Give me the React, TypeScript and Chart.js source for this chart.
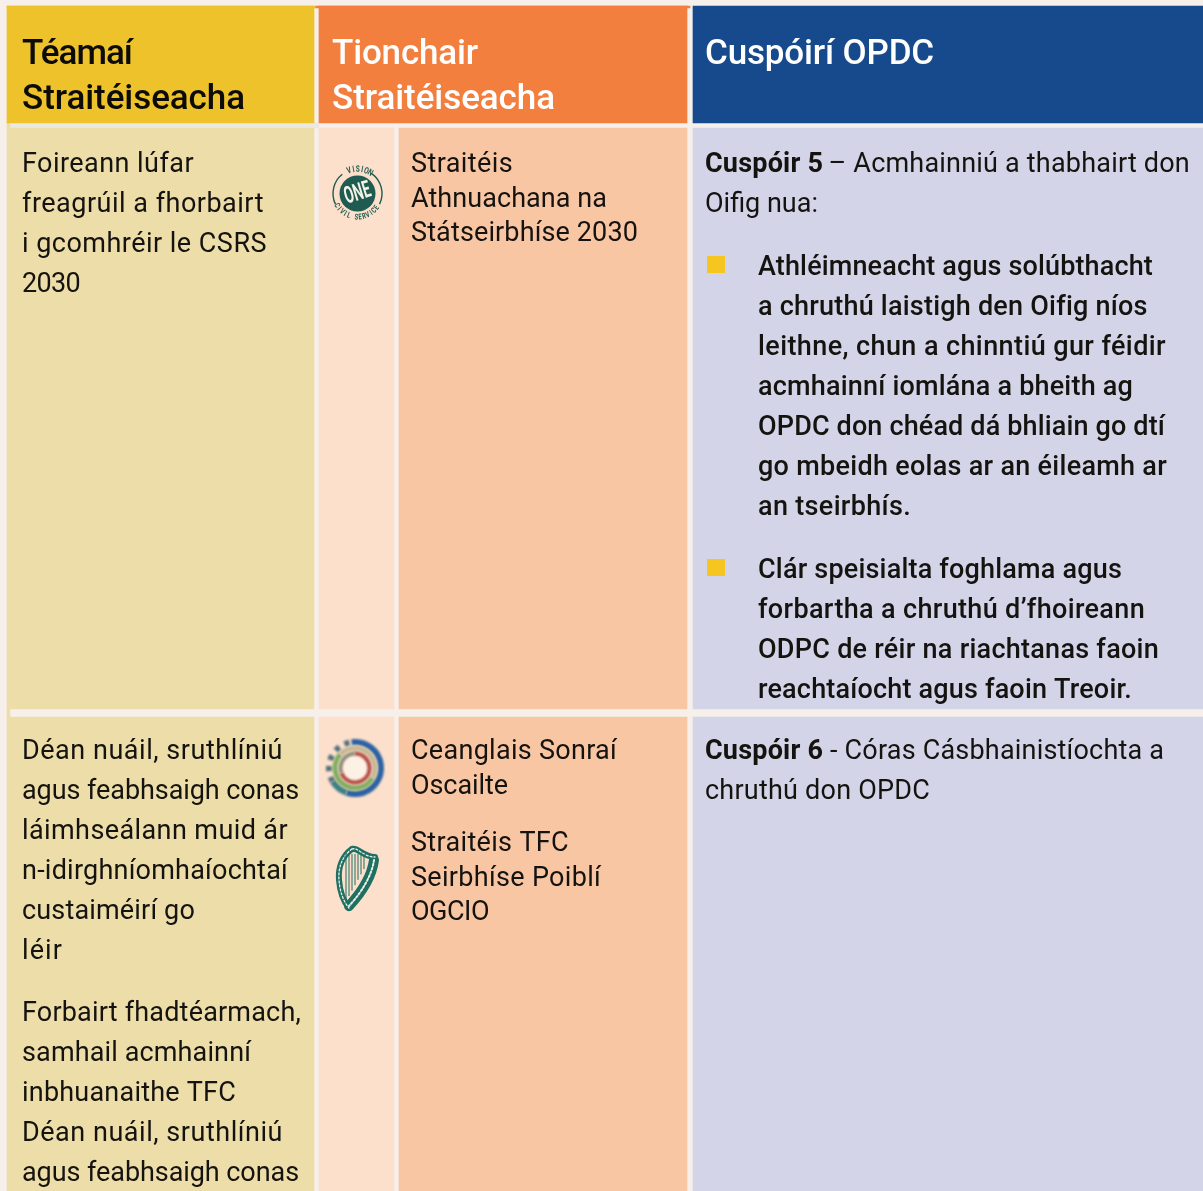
import React, { useEffect, useRef } from "react";
import { Chart, registerables } from "chart.js";

Chart.register(...registerables);

const FONT = "Roboto";
const INK = "#15130f";

const headerColumn1 = ["Téamaí", "Straitéiseacha"];
const headerColumn2 = ["Tionchair", "Straitéiseacha"];
const headerColumn3 = ["Cuspóirí OPDC"];

const themeRow1 = ["Foireann lúfar", "freagrúil a fhorbairt", "i gcomhréir le CSRS", "2030"];
const themeRow2a = ["Déan nuáil, sruthlíniú", "agus feabhsaigh conas", "láimhseálann muid ár", "n-idirghníomhaíochtaí", "custaiméirí go", "léir"];
const themeRow2b = ["Forbairt fhadtéarmach,", "samhail acmhainní", "inbhuanaithe TFC", "Déan nuáil, sruthlíniú", "agus feabhsaigh conas"];

const impactRow1 = ["Straitéis", "Athnuachana na", "Státseirbhíse 2030"];
const impactRow2a = ["Ceanglais Sonraí", "Oscailte"];
const impactRow2b = ["Straitéis TFC", "Seirbhíse Poiblí", "OGCIO"];

const goal5Lead = "Cuspóir 5";
const goal5Rest = " – Acmhainniú a thabhairt don";
const goal5Line2 = "Oifig nua:";
const bullet1 = ["Athléimneacht agus solúbthacht", "a chruthú laistigh den Oifig níos", "leithne, chun a chinntiú gur féidir", "acmhainní iomlána a bheith ag", "OPDC don chéad dá bhliain go dtí", "go mbeidh eolas ar an éileamh ar", "an tseirbhís."];
const bullet2 = ["Clár speisialta foghlama agus", "forbartha a chruthú d’fhoireann", "ODPC de réir na riachtanas faoin", "reachtaíocht agus faoin Treoir."];
const goal6Lead = "Cuspóir 6";
const goal6Rest = " - Córas Cásbhainistíochta a";
const goal6Line2 = "chruthú don OPDC";

const columnEdges: [number, number][] = [[7, 314], [319, 687], [693, 1203]];
const rowCells: [number, number][] = [[7, 314], [319, 394], [399, 687], [693, 1203]];
const headerColours = ["#eec22b", "#f27f3d", "#174a8c"];
const bodyColours = ["#eddda9", "#fce0cb", "#f9c6a4", "#d3d4e7"];
const topStripEdges: [number, number][] = [[7, 316], [316, 690]];
const topStripColours = ["#eec22b", "#f27f3d"];
const leftBridgeEdges: [number, number][] = [[7, 10]];
const leftBridgeColours = ["#eddda9"];
const paleRuleEdges: [number, number][] = [[10, 319]];
const paleRuleColours = ["#ebe8e3"];

// Right-hand ends of each text line, so the substitute font fills the same measure.
const fitThemeRow1 = [194, 264, 267, 80];
const fitThemeRow2a = [283, 299, 288, 288, 195, 63];
const fitThemeRow2b = [301, 251, 236, 283, 299];
const fitImpactRow1 = [513, 607, 638];
const fitImpactRow2a = [617, 508];
const fitImpactRow2b = [569, 601, 489];
const fitBullet1 = [1153, 1147, 1166, 1133, 1165, 1167, 911];
const fitBullet2 = [1122, 1145, 1159, 1132];
const fitHeader1 = [132, 245];
const fitHeader2 = [478, 555];

function textBlock(ctx: CanvasRenderingContext2D, lines: string[], x: number, y: number, lh: number, font: string, ends: number[] | null, color = INK) {
  ctx.font = font;
  ctx.fillStyle = color;
  lines.forEach((l, i) => {
    let sp = 0;
    if (ends) {
      (ctx as any).letterSpacing = "0px";
      sp = (ends[i] - x - ctx.measureText(l).width) / l.length;
    }
    (ctx as any).letterSpacing = `${sp.toFixed(3)}px`;
    ctx.fillText(l, x, y + i * lh);
  });
  (ctx as any).letterSpacing = "0px";
}

function leadLine(ctx: CanvasRenderingContext2D, lead: string, rest: string, x: number, y: number, bold: string, reg: string, sp: string, nudge: number) {
  ctx.fillStyle = INK;
  (ctx as any).letterSpacing = sp;
  ctx.font = bold;
  ctx.fillText(lead, x, y);
  const w = ctx.measureText(lead).width;
  ctx.font = reg;
  ctx.fillText(rest, x + w + nudge, y);
  (ctx as any).letterSpacing = "0px";
}

function arcText(ctx: CanvasRenderingContext2D, s: string, cx: number, cy: number, r: number, mid: number, step: number, bottom: boolean) {
  const n = s.length;
  [...s].forEach((ch, i) => {
    const off = (i - (n - 1) / 2) * step;
    const a = bottom ? mid - off : mid + off;
    ctx.save();
    ctx.translate(cx + r * Math.cos(a), cy + r * Math.sin(a));
    ctx.rotate(bottom ? a - Math.PI / 2 : a + Math.PI / 2);
    ctx.scale(0.72, 1);
    ctx.fillText(ch, 0, 0);
    ctx.restore();
  });
}

function visionLogo(ctx: CanvasRenderingContext2D) {
  const cx = 357.5, cy = 193.5, green = "#1f5b50";
  ctx.save();
  ctx.strokeStyle = green;
  ctx.lineWidth = 1.4;
  ctx.beginPath(); ctx.arc(cx, cy, 24.5, -0.95, 0.45); ctx.stroke();
  ctx.beginPath(); ctx.arc(cx, cy, 24.5, Math.PI - 0.45, Math.PI + 0.9); ctx.stroke();
  ctx.fillStyle = green;
  ctx.beginPath(); ctx.arc(cx, cy, 18, 0, Math.PI * 2); ctx.fill();
  ctx.textAlign = "center";
  ctx.textBaseline = "middle";
  ctx.font = "700 9px Roboto";
  arcText(ctx, "VISION", cx, cy, 24, -Math.PI / 2 + 0.1, 0.18, false);
  ctx.font = "700 8px Roboto";
  arcText(ctx, "CIVIL SERVICE", cx, cy, 24, Math.PI / 2 + 0.05, 0.165, true);
  ctx.translate(cx, cy);
  ctx.rotate(-0.3);
  ctx.scale(0.72, 1.25);
  ctx.fillStyle = "#f6f2e8";
  ctx.font = "700 19px Roboto";
  ctx.fillText("ONE", 0, 0.5);
  ctx.restore();
}

function ringLogo(ctx: CanvasRenderingContext2D) {
  const cx = 355, cy = 768;
  ctx.save();
  ctx.filter = "blur(1.1px)";
  ctx.lineWidth = 6;
  ctx.strokeStyle = "#2b62a3";
  ctx.beginPath(); ctx.arc(cx, cy, 26, -1.7, 1.9); ctx.stroke();
  ctx.strokeStyle = "#3f7f86";
  ctx.beginPath(); ctx.arc(cx, cy, 26, 1.9, 2.6); ctx.stroke();
  ctx.strokeStyle = "#54717f";
  ctx.setLineDash([5, 6]);
  ctx.beginPath(); ctx.arc(cx, cy, 26, 2.6, 4.5); ctx.stroke();
  ctx.setLineDash([]);
  ctx.lineWidth = 5;
  ctx.strokeStyle = "#7fae60";
  ctx.beginPath(); ctx.arc(cx, cy, 20, 0.5, 3.9); ctx.stroke();
  ctx.strokeStyle = "#c6b896";
  ctx.beginPath(); ctx.arc(cx, cy, 20, 3.9, 6.8); ctx.stroke();
  ctx.fillStyle = "#fdf0e4";
  ctx.beginPath(); ctx.arc(cx, cy, 13, 0, Math.PI * 2); ctx.fill();
  ctx.lineWidth = 4;
  ctx.strokeStyle = "#b34f47";
  ctx.beginPath(); ctx.arc(cx, cy, 14.5, -1.6, 2.8); ctx.stroke();
  ctx.strokeStyle = "#8f8f7b";
  ctx.beginPath(); ctx.arc(cx, cy, 14.5, 2.8, 4.7); ctx.stroke();
  ctx.restore();
}

function harpLogo(ctx: CanvasRenderingContext2D) {
  const teal = "#1f6f63";
  ctx.save();
  ctx.lineCap = "round";
  ctx.strokeStyle = teal;
  const pillar = new Path2D("M352 849 C342 856 338 868 339 880 C340 893 344 902 349 908");
  const arm = new Path2D("M374 860 C372 875 362 892 349 906");
  const neck = new Path2D("M352 849 C358 847 363 857 375 857");
  ctx.lineWidth = 6;
  ctx.stroke(pillar);
  ctx.lineWidth = 10;
  ctx.stroke(arm);
  ctx.lineWidth = 6;
  ctx.stroke(neck);
  ctx.strokeStyle = "#e8f0e4";
  ctx.lineWidth = 1.3;
  ctx.setLineDash([2, 2]);
  ctx.stroke(pillar); ctx.stroke(neck);
  ctx.lineWidth = 2;
  ctx.stroke(arm);
  ctx.setLineDash([]);
  ctx.strokeStyle = teal;
  ctx.lineWidth = 1;
  ctx.lineCap = "butt";
  ctx.beginPath();
  [346, 349, 352, 355, 358, 361, 364].forEach((x) => {
    ctx.moveTo(x, 854);
    ctx.lineTo(x, 860 + (369 - x) * 1.8);
  });
  ctx.stroke();
  ctx.restore();
}

const contentPlugin = {
  id: "tableText",
  afterDatasetsDraw(chart: any) {
    const ctx: CanvasRenderingContext2D = chart.ctx;
    ctx.save();
    ctx.textBaseline = "alphabetic";
    ctx.textAlign = "left";
    const hb = `500 35px ${FONT}`;
    const body = `400 27px ${FONT}`;
    const med = `500 27px ${FONT}`;
    const bold = `700 27px ${FONT}`;

    textBlock(ctx, headerColumn1, 22, 64, 45, hb, fitHeader1, "#0c0b08");
    textBlock(ctx, headerColumn2, 332, 64, 45, hb, fitHeader2, "#ffffff");
    textBlock(ctx, headerColumn3, 705, 64, 45, hb, [934], "#ffffff");

    textBlock(ctx, themeRow1, 22, 172, 40, body, fitThemeRow1);
    textBlock(ctx, themeRow2a, 22, 759, 40, body, fitThemeRow2a);
    textBlock(ctx, themeRow2b, 22, 1021, 40, body, fitThemeRow2b);

    textBlock(ctx, impactRow1, 411, 172, 34.6, body, fitImpactRow1);
    textBlock(ctx, impactRow2a, 411, 759, 34.6, body, fitImpactRow2a);
    textBlock(ctx, impactRow2b, 411, 851, 34.6, body, fitImpactRow2b);

    leadLine(ctx, goal5Lead, goal5Rest, 705, 172, bold, body, "0.2px", -1.5);
    textBlock(ctx, [goal5Line2], 705, 212, 40, body, null);
    textBlock(ctx, bullet1, 758, 275, 40, med, fitBullet1);
    textBlock(ctx, bullet2, 758, 578, 40, med, fitBullet2);
    leadLine(ctx, goal6Lead, goal6Rest, 705, 759, bold, body, "0.2px", 0);
    textBlock(ctx, [goal6Line2], 705, 799, 40, body, [930]);

    ctx.fillStyle = "#f7c520";
    ctx.fillRect(707, 256, 18, 17);
    ctx.fillRect(707, 559, 18, 17);

    visionLogo(ctx);
    ringLogo(ctx);
    harpLogo(ctx);
    ctx.restore();
  },
};

export default function App() {
  const ref = useRef<HTMLCanvasElement>(null);
  useEffect(() => {
    document.body.style.margin = "0";
    document.body.style.overflow = "hidden";
    document.body.style.background = "#f6efea";
    const bands = (edges: [number, number][], centre: number, thickness: number, colours: string[]) => ({
      data: edges.map(e => ({ x: e, y: centre })),
      backgroundColor: colours,
      barThickness: thickness,
      borderWidth: 0,
      grouped: false,
      borderSkipped: false,
    });
    const chart = new Chart(ref.current!, {
      type: "bar",
      data: {
        datasets: [
          bands(columnEdges, 64.5, 117, headerColours),
          bands(topStripEdges, 7, 2, topStripColours),
          bands(rowCells, 418.5, 581, bodyColours),
          bands(rowCells, 954, 474, bodyColours),
          bands(leftBridgeEdges, 713, 8, leftBridgeColours),
          bands(leftBridgeEdges, 125.5, 5, leftBridgeColours),
          bands(paleRuleEdges, 125.5, 5, paleRuleColours),
        ] as any,
      },
      options: {
        indexAxis: "y",
        animation: false,
        responsive: false,
        layout: { padding: 0 },
        plugins: { legend: { display: false }, tooltip: { enabled: false } },
        scales: {
          x: { type: "linear", min: 0, max: 1203, display: false, offset: false },
          y: { type: "linear", min: 0, max: 1191, reverse: true, display: false, offset: false },
        },
      } as any,
      plugins: [contentPlugin],
    });
    return () => chart.destroy();
  }, []);
  return <canvas ref={ref} width={1203} height={1191} style={{ display: "block", position: "fixed", left: 0, top: 0 }} />;
}
